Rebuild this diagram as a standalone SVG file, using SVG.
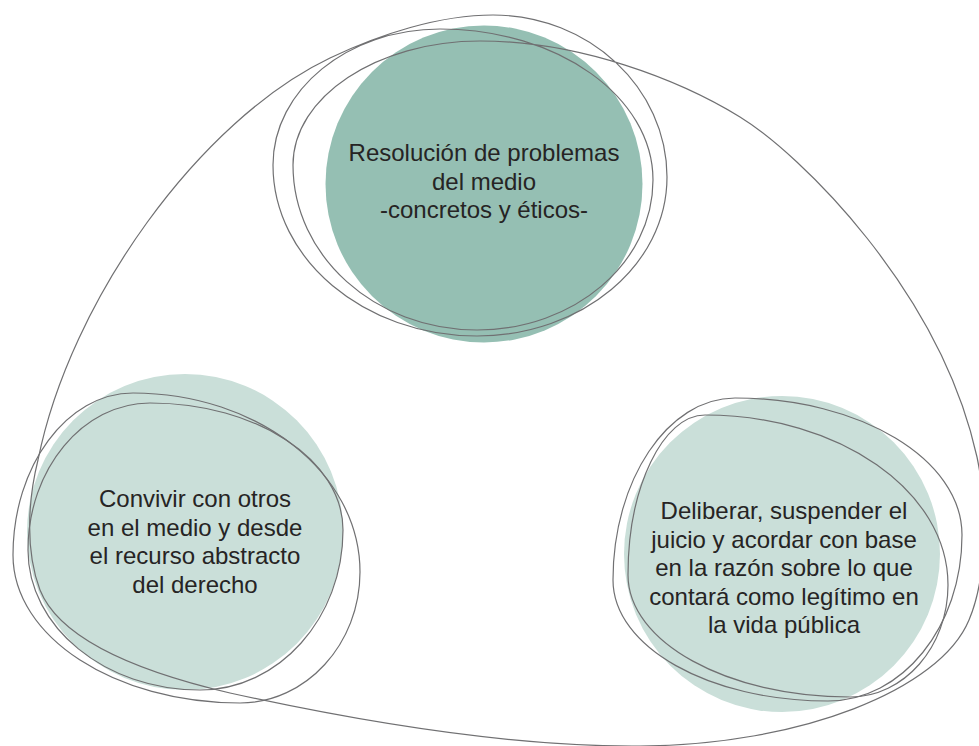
<svg xmlns="http://www.w3.org/2000/svg" width="979" height="746" viewBox="0 0 979 746">
<style>
.ln{fill:none;stroke:#707072;stroke-width:1.2}
.t{font-family:"Liberation Sans",Arial,sans-serif;font-size:24px;fill:#262424;text-anchor:middle}
</style>
<rect width="979" height="746" fill="#ffffff"/>
<g id="node-top">
<circle cx="484" cy="184" r="158.5" fill="#95BFB3"/>
<text class="t"><tspan x="484" y="161">Resolución de problemas</tspan><tspan x="484" y="189.5">del medio</tspan><tspan x="484" y="218">-concretos y éticos-</tspan></text>
</g>
<g id="node-left">
<circle cx="185" cy="532" r="158" fill="#CADFD9"/>
<text class="t"><tspan x="195" y="507">Convivir con otros</tspan><tspan x="195" y="535.7">en el medio y desde</tspan><tspan x="195" y="564.3">el recurso abstracto</tspan><tspan x="195" y="593">del derecho</tspan></text>
</g>
<g id="node-right">
<circle cx="782" cy="554" r="158" fill="#CADFD9"/>
<text class="t"><tspan x="784" y="519">Deliberar, suspender el</tspan><tspan x="784" y="547.5">juicio y acordar con base</tspan><tspan x="784" y="576">en la razón sobre lo que</tspan><tspan x="784" y="604.5">contará como legítimo en</tspan><tspan x="784" y="633">la vida pública</tspan></text>
</g>
<g id="connectors">
<path class="ln" d="M 230,693 C 140,672 60,640 40,590 C 25,550 28,500 38,460 C 70,300 200,120 330,58 C 380,34 440,15 493,15 C 589,15 667,88 667,177 C 667,265 582,336 477,336 C 364,336 273,259 273,165 C 273,90 348,29 440,29 C 558,29 653,97 653,180 C 653,263 574,330 477,330 C 375,330 293,256 293,165 C 293,97 377,41 480,41 C 580,41 680,80 740,117 C 800,154 940,290 977,457 C 985,495 990,570 969,620 C 940,690 800,745 640,746 C 520,747 380,726 230,693 Z"/>
<path class="ln" d="M 133,393 C 258,393 360,473 360,572 C 360,644 306,703 240,703 C 115,703 13,637 13,555 C 13,466 67,393 133,393 Z"/>
<path class="ln" d="M 150,403 C 257,403 343,460 343,530 C 343,618 279,690 200,690 C 105,690 28,627 28,550 C 28,469 83,403 150,403 Z"/>
<path class="ln" d="M 735,398 C 860,398 962,459 962,535 C 962,627 902,701 828,701 C 709,701 613,647 613,580 C 613,480 668,398 735,398 Z"/>
<path class="ln" d="M 705,415 C 839,415 948,491 948,585 C 948,647 904,697 850,697 C 727,697 628,642 628,575 C 628,487 663,415 705,415 Z"/>
</g>
</svg>
